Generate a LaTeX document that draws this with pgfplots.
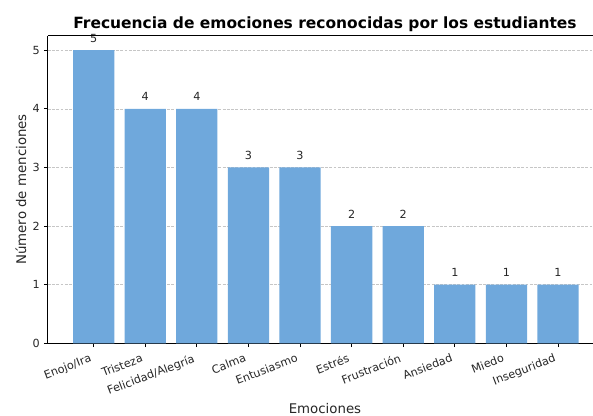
\documentclass[border=0pt]{standalone}
\usepackage{fontspec}
\setmainfont{DejaVu Sans}
\usepackage{pgfplots}
\pgfplotsset{compat=1.18}
\definecolor{barblue}{RGB}{111,168,220}

\pgfplotstableread[col sep=comma]{
idx,count
0,5
1,4
2,4
3,3
4,3
5,2
6,2
7,1
8,1
9,1
}\emociones

\begin{document}
\begin{tikzpicture}
\begin{axis}[
  at={(0,0)}, anchor=south west,
  scale only axis, width=409pt, height=230.8pt,
  xmin=-0.89, xmax=9.678, ymin=0, ymax=5.25,
  axis x line*=bottom, axis y line*=left,
  xtick={0,...,9},
  xticklabels={Enojo/Ira,Tristeza,Felicidad/Alegría,Calma,Entusiasmo,Estrés,Frustración,Ansiedad,Miedo,Inseguridad},
  ytick={0,...,5},
  tick align=outside, major tick length=2.9pt,
  tick style={black, line width=0.6pt},
  axis line style={black, line width=0.6pt},
  ymajorgrids,
  major grid style={gray!45, line width=0.5pt, dash pattern=on 2.2pt off 1pt},
  /pgf/number format/assume math mode=true,
  ticklabel style={font=\fontsize{8.4}{10}\selectfont, text=black!85},
  yticklabel style={anchor=east, inner sep=0pt, xshift=-2.9pt},
  xticklabel style={anchor=north east, inner sep=0pt, xshift=-3.4pt, yshift=-4.5pt, rotate=21},
  title={Frecuencia de emociones reconocidas por los estudiantes},
  every axis title shift=0pt,
  title style={font=\fontsize{11.6}{14}\selectfont\bfseries, at={(axis description cs:0.5085,1.0218)}, anchor=base, inner sep=0pt},
  xlabel={Emociones},
  ylabel={Número de menciones},
  label style={font=\fontsize{10}{12}\selectfont, text=black!85},
  xlabel style={at={(axis description cs:0.5085,-0.2298)}, anchor=base, inner sep=0pt},
  ylabel style={at={(axis description cs:-0.0398,0.5)}, anchor=base, inner sep=0pt},
  nodes near coords,
  nodes near coords style={font=\fontsize{8.4}{10}\selectfont, text=black!85, anchor=base, inner sep=0pt, yshift=6pt},
  after end axis/.code={
    \draw[black, line width=0.6pt] (rel axis cs:0,1) -- (rel axis cs:1,1);
  },
]
\addplot[ybar, bar width=0.8, fill=barblue, draw=none] table[x=idx, y=count] {\emociones};
\end{axis}
\pgfresetboundingbox
\path[use as bounding box] (-35.8pt,-54.5pt) rectangle (409pt,257.5pt);
\end{tikzpicture}
\end{document}
